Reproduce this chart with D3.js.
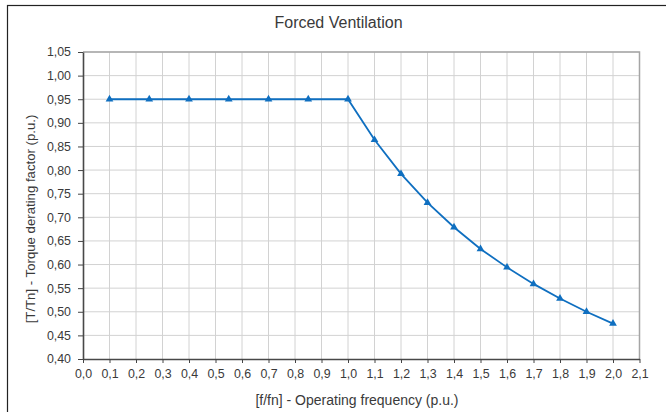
<!DOCTYPE html>
<html>
<head>
<meta charset="utf-8">
<script src="https://cdn.jsdelivr.net/npm/d3@7"></script>
<style>
  body { margin: 0; background: #fff; }
  svg text { font-family: "Liberation Sans", Arial, sans-serif; fill: #3a3a3a; }
</style>
</head>
<body>
<div id="chart"></div>
<script>
// Data
const freq = [0.1, 0.25, 0.4, 0.55, 0.7, 0.85, 1.0, 1.1, 1.2, 1.3, 1.4, 1.5, 1.6, 1.7, 1.8, 1.9, 2.0];
const torque = [0.95, 0.95, 0.95, 0.95, 0.95, 0.95, 0.95, 0.864, 0.792, 0.731, 0.679, 0.633, 0.594, 0.559, 0.528, 0.500, 0.475];
const xTicks = d3.range(0, 22).map(i => i / 10);
const yTicks = d3.range(0, 14).map(i => 0.40 + i * 0.05);
const title = 'Forced Ventilation';
const xLabel = '[f/fn] - Operating frequency (p.u.)';
const yLabel = '[T/Tn] - Torque derating factor (p.u.)';

const width = 666, height = 412;
const comma = d => d.toFixed(2).replace('.', ',');
const comma1 = d => d.toFixed(1).replace('.', ',');

const svg = d3.select('#chart').append('svg')
    .attr('width', width)
    .attr('height', height);

// outer frame (right and bottom edges fall outside the picture)
svg.append('rect')
    .attr('x', 7.5).attr('y', 5.5)
    .attr('width', 700).attr('height', 440)
    .attr('fill', 'none')
    .attr('stroke', '#222')
    .attr('stroke-width', 1.2);

const x = d3.scaleLinear().domain([0, 2.1]).range([83, 639.5]);
const y = d3.scaleLinear().domain([0.40, 1.05]).range([359, 52]);

// grid
svg.append('g')
    .selectAll('line')
    .data(xTicks.slice(1))
    .enter().append('line')
    .attr('x1', d => x(d)).attr('x2', d => x(d))
    .attr('y1', y(1.05)).attr('y2', y(0.40))
    .attr('stroke', '#d2d2d2').attr('stroke-width', 1);

svg.append('g')
    .selectAll('line')
    .data(yTicks.slice(1))
    .enter().append('line')
    .attr('x1', x(0)).attr('x2', x(2.1))
    .attr('y1', d => y(d)).attr('y2', d => y(d))
    .attr('stroke', '#d2d2d2').attr('stroke-width', 1);

// plot area top/right edge
svg.append('path')
    .attr('d', `M${x(0)},${y(1.05)}H${x(2.1)}V${y(0.40)}`)
    .attr('fill', 'none')
    .attr('stroke', '#a5a5a5').attr('stroke-width', 1.5);

// axes
const xAxis = svg.append('g')
    .attr('transform', `translate(0,${y(0.40)})`)
    .call(d3.axisBottom(x).tickValues(xTicks).tickFormat(comma1).tickSize(4).tickSizeOuter(0).tickPadding(6));
const yAxis = svg.append('g')
    .attr('transform', `translate(${x(0)},0)`)
    .call(d3.axisLeft(y).tickValues(yTicks).tickFormat(comma).tickSize(5).tickSizeOuter(0).tickPadding(7));

[xAxis, yAxis].forEach(a => {
    a.select('.domain').attr('stroke', '#484848').attr('stroke-width', 1.6);
    a.selectAll('.tick line').attr('stroke', '#444');
    a.selectAll('text').attr('font-size', 12.4).attr('fill', '#3a3a3a');
});

// series
const line = d3.line().x((d, i) => x(freq[i])).y(d => y(d));
svg.append('path')
    .datum(torque)
    .attr('d', line)
    .attr('fill', 'none')
    .attr('stroke', '#0f6fc0')
    .attr('stroke-width', 1.8);

svg.append('g')
    .selectAll('path')
    .data(torque)
    .enter().append('path')
    .attr('transform', (d, i) => `translate(${x(freq[i])},${y(d)})`)
    .attr('d', d3.symbol().type(d3.symbolTriangle).size(26))
    .attr('fill', '#0f6fc0');

// titles
svg.append('text')
    .attr('x', 338.5).attr('y', 28)
    .attr('text-anchor', 'middle')
    .attr('font-size', 16)
    .text(title);

svg.append('text')
    .attr('x', 357).attr('y', 405)
    .attr('text-anchor', 'middle')
    .attr('font-size', 14)
    .text(xLabel);

svg.append('text')
    .attr('transform', 'translate(35,219) rotate(-90)')
    .attr('text-anchor', 'middle')
    .attr('font-size', 13.2)
    .text(yLabel);
</script>
</body>
</html>
